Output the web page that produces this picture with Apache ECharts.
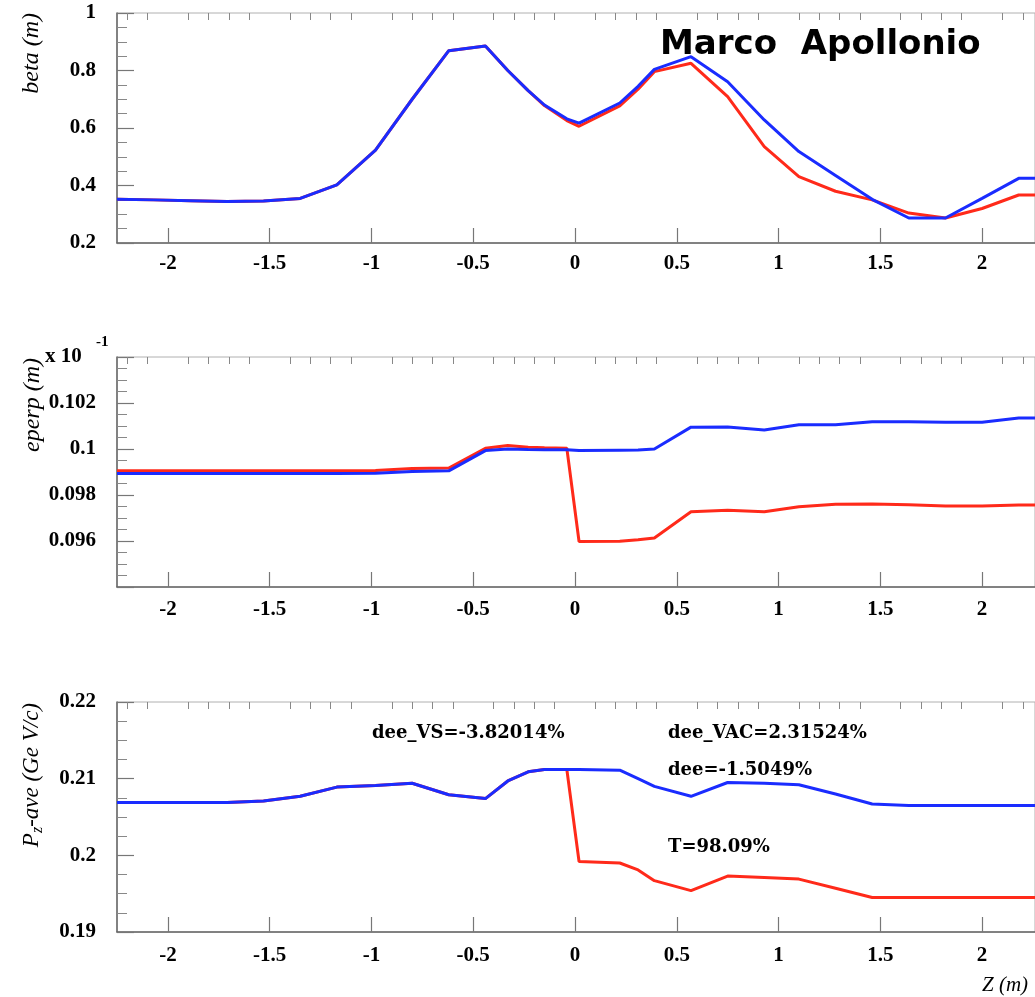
<!DOCTYPE html>
<html><head><meta charset="utf-8">
<script src="https://cdn.jsdelivr.net/npm/echarts@6/dist/echarts.min.js"></script>
<style>html,body{margin:0;padding:0;background:#fff}#c{width:1035px;height:997px}</style>
</head><body><div id="c"></div>
<script>
// Sample positions along Z (m)
const Z = [-2.25,-2.07,-1.89,-1.71,-1.53,-1.35,-1.17,-0.98,-0.80,-0.62,-0.44,-0.33,-0.23,-0.15,-0.04,0.02,0.22,0.31,0.39,0.57,0.75,0.93,1.10,1.28,1.46,1.64,1.82,2.00,2.18,2.26];
// beta (m)
const betaBlue = [0.352,0.350,0.347,0.344,0.346,0.355,0.402,0.523,0.700,0.869,0.885,0.800,0.730,0.680,0.632,0.617,0.687,0.745,0.804,0.848,0.761,0.628,0.518,0.435,0.352,0.287,0.287,0.355,0.425,0.425];
const betaRed  = [0.352,0.350,0.347,0.344,0.346,0.355,0.402,0.523,0.700,0.869,0.885,0.800,0.730,0.678,0.626,0.606,0.677,0.735,0.796,0.825,0.709,0.535,0.431,0.380,0.350,0.304,0.287,0.320,0.367,0.367];
// eperp (m) x 10^-1
const eperpBlue = [0.09893,0.09893,0.09893,0.09893,0.09893,0.09893,0.09893,0.09895,0.09902,0.09905,0.09993,0.10000,0.09998,0.09997,0.09997,0.09993,0.09995,0.09996,0.10000,0.10095,0.10096,0.10083,0.10105,0.10105,0.10118,0.10118,0.10116,0.10116,0.10135,0.10135];
const eperpRed  = [0.09905,0.09905,0.09905,0.09905,0.09905,0.09905,0.09905,0.09906,0.09915,0.09917,0.10003,0.10015,0.10008,0.10005,0.10003,0.09598,0.09599,0.09605,0.09613,0.09727,0.09734,0.09727,0.09749,0.09760,0.09761,0.09758,0.09752,0.09752,0.09756,0.09756];
// Pz-ave (GeV/c)
const pzBlue = [0.2069,0.2069,0.2069,0.2069,0.2071,0.2077,0.2089,0.2091,0.2094,0.2079,0.2074,0.2097,0.2109,0.2112,0.2112,0.2112,0.2111,0.2100,0.2090,0.2077,0.2095,0.2094,0.2092,0.2080,0.2067,0.2065,0.2065,0.2065,0.2065,0.2065];
const pzRed  = [0.2069,0.2069,0.2069,0.2069,0.2071,0.2077,0.2089,0.2091,0.2094,0.2079,0.2074,0.2097,0.2109,0.2112,0.2112,0.1992,0.1990,0.1981,0.1967,0.1954,0.1973,0.1971,0.1969,0.1957,0.1945,0.1945,0.1945,0.1945,0.1945,0.1945];
const xMajor = [-2,-1.5,-1,-0.5,0,0.5,1,1.5,2];
const xMinor = [];
for (let k = -22; k <= 22; k++) { if (k % 5 !== 0) xMinor.push(k / 10); }
const yRanges = [
  {min: 0.2, max: 1.0, interval: 0.2, labels: null},
  {min: 0.094, max: 0.104, interval: 0.002, labels: [0.096, 0.098, 0.1, 0.102]},
  {min: 0.19, max: 0.22, interval: 0.01, labels: null}
];
const notes = ['dee_VS=-3.82014%', 'dee_VAC=2.31524%', 'dee=-1.5049%', 'T=98.09%'];

const chart = echarts.init(document.getElementById('c'), null, {renderer: 'canvas'});
const FONT = 'Liberation Serif';
const tops = [13, 357, 702];
const xMargins = [10, 12, 13];
const H = 230;
const grids = tops.map(t => ({left: 117, right: -3, top: t, height: H, show: true, borderColor: '#b0b0b0', borderWidth: 1, backgroundColor: 'transparent'}));
const xAxes = [], yAxes = [];
tops.forEach((t, i) => {
  xAxes.push({type: 'value', gridIndex: i, min: -2.25, max: 2.26,
    axisLine: {show: true, onZero: false, lineStyle: {color: '#666', width: 1.5}},
    axisTick: {show: true, inside: true, length: 15, customValues: xMajor, lineStyle: {color: '#777', width: 1.2}},
    axisLabel: {show: true, customValues: xMajor, margin: xMargins[i], color: '#000', fontFamily: FONT, fontWeight: 'bold', fontSize: 21},
    splitLine: {show: false}});
  xAxes.push({type: 'value', gridIndex: i, min: -2.25, max: 2.26,
    axisLine: {show: false},
    axisTick: {show: true, inside: true, length: 7, customValues: xMinor, lineStyle: {color: '#888', width: 1}},
    axisLabel: {show: false}, splitLine: {show: false}});
  const r = yRanges[i];
  const lab = {color: '#000', fontFamily: FONT, fontWeight: 'bold', fontSize: 21, margin: 21};
  if (r.labels) lab.customValues = r.labels;
  yAxes.push({type: 'value', gridIndex: i, min: r.min, max: r.max, interval: r.interval,
    axisLine: {show: true, onZero: false, lineStyle: {color: '#666', width: 1.5}},
    axisTick: {show: true, inside: true, length: 17, lineStyle: {color: '#777', width: 1.2}},
    minorTick: {show: true, splitNumber: 4, length: 10, lineStyle: {color: '#888', width: 1}},
    axisLabel: lab, splitLine: {show: false}, minorSplitLine: {show: false}});
});
const RED = '#ff2a1a', BLUE = '#1a2cff';
const mk = (arr) => Z.map((z, k) => [z, arr[k]]);
const pairs = [[betaRed, betaBlue], [eperpRed, eperpBlue], [pzRed, pzBlue]];
const series = [];
pairs.forEach((p, i) => {
  series.push({type: 'line', xAxisIndex: 2 * i, yAxisIndex: i, data: mk(p[0]), showSymbol: false, lineStyle: {color: RED, width: 3}, itemStyle: {color: RED}, animation: false, clip: true, z: 2});
  series.push({type: 'line', xAxisIndex: 2 * i, yAxisIndex: i, data: mk(p[1]), showSymbol: false, lineStyle: {color: BLUE, width: 3}, itemStyle: {color: BLUE}, animation: false, clip: true, z: 3});
});
const noteStyle = {fill: '#000', font: 'bold 18px "DejaVu Serif"'};
const graphic = [
  {type: 'text', x: 32, y: 13, rotation: Math.PI / 2, style: {text: 'beta (m)', textAlign: 'right', textVerticalAlign: 'middle', fill: '#000', font: 'italic 24px "Liberation Serif"'}},
  {type: 'text', x: 33, y: 358, rotation: Math.PI / 2, style: {text: 'eperp (m)', textAlign: 'right', textVerticalAlign: 'middle', fill: '#000', font: 'italic 24px "Liberation Serif"'}},
  {type: 'text', x: 45, y: 357, style: {text: 'x 10', textVerticalAlign: 'middle', fill: '#000', font: 'bold 21px "Liberation Serif"'}},
  {type: 'text', x: 96, y: 342, style: {text: '-1', textVerticalAlign: 'middle', fill: '#000', font: 'bold 15px "Liberation Serif"'}},
  {type: 'text', x: 32, y: 703, rotation: Math.PI / 2, style: {text: '{i|P}{s|z}{i|-ave (Ge V/c)}', textAlign: 'right', textVerticalAlign: 'middle', rich: {i: {fontFamily: FONT, fontStyle: 'italic', fontSize: 23, lineHeight: 28, verticalAlign: 'middle'}, s: {fontFamily: FONT, fontStyle: 'italic', fontSize: 16, verticalAlign: 'bottom', lineHeight: 16}}}},
  {type: 'text', x: 982, y: 985, style: {text: 'Z (m)', textVerticalAlign: 'middle', fill: '#000', font: 'italic 21px "Liberation Serif"'}},
  {type: 'text', x: 372, y: 733, style: Object.assign({text: notes[0], textVerticalAlign: 'middle'}, noteStyle)},
  {type: 'text', x: 668, y: 733, style: Object.assign({text: notes[1], textVerticalAlign: 'middle'}, noteStyle)},
  {type: 'text', x: 668, y: 770, style: Object.assign({text: notes[2], textVerticalAlign: 'middle'}, noteStyle)},
  {type: 'text', x: 668, y: 847, style: Object.assign({text: notes[3], textVerticalAlign: 'middle'}, noteStyle)},
  {type: 'text', x: 660, y: 45, z: 100, style: {text: 'Marco  Apollonio', textVerticalAlign: 'middle', fill: '#000', font: 'bold 34px "DejaVu Sans"'}}
];
chart.setOption({animation: false, backgroundColor: '#fff', grid: grids, xAxis: xAxes, yAxis: yAxes, series: series, graphic: graphic});
</script></body></html>
